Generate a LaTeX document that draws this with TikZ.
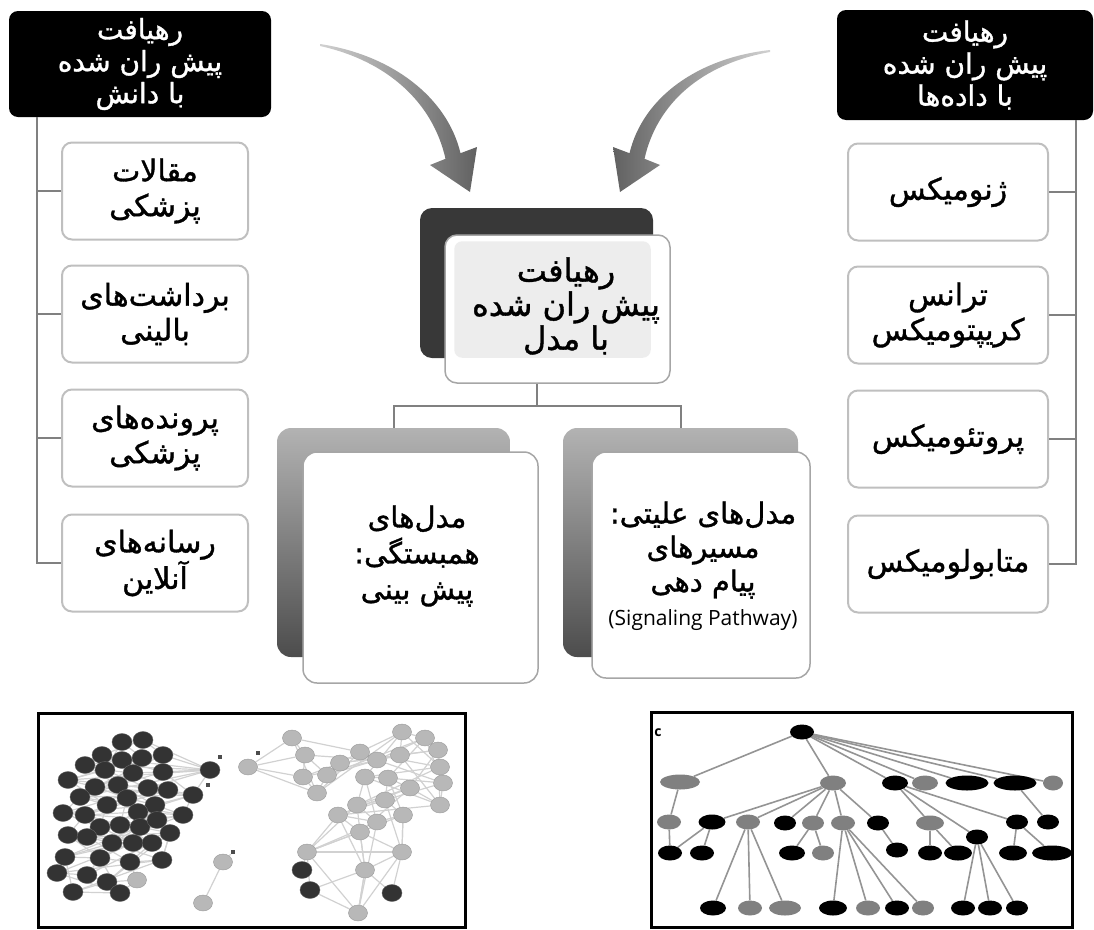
\documentclass[tikz,border=0pt]{standalone}
\usepackage{fontspec}
\setmainfont{DejaVu Sans}
\newfontfamily\persianfont[Script=Arabic,FakeBold=1.2]{DejaVu Sans}
\newfontfamily\latinfont{Open Sans}
\TeXXeTstate=1
\usetikzlibrary{shapes.geometric,calc,backgrounds}
\newcommand\rtlline[1]{\beginR #1\endR}
\tikzset{
  headbox/.style={rounded corners=9pt, fill=black, text=white, minimum width=262pt, minimum height=106pt,
    align=center, inner sep=0pt, font=\persianfont\fontsize{28}{32}\selectfont},
  leafbox/.style={rounded corners=10pt, draw=black!25, line width=2pt, fill=white, minimum width=186pt,
    minimum height=97pt, align=center, inner sep=0pt, font=\persianfont\fontsize{30}{35}\selectfont},
  conn/.style={draw=black!50, line width=2pt},
  frontbox/.style={rounded corners=14pt, fill=white, draw=black!35, line width=1.5pt, inner sep=0pt},
  backbox/.style={rounded corners=14pt, top color=black!30, bottom color=black!70, inner sep=0pt},
  lowtext/.style={align=center, inner sep=0pt, font=\persianfont\fontsize{29}{36}\selectfont},
  dk/.style={ellipse, fill=black!80, draw=black!60, minimum width=20pt, minimum height=17pt, inner sep=0pt},
  lt/.style={ellipse, fill=black!28, draw=black!40, minimum width=19pt, minimum height=16pt, inner sep=0pt},
  dot/.style={rectangle, fill=black!70, minimum size=4pt, inner sep=0pt},
  nedge/.style={draw=black!18, line width=1.2pt},
  tb/.style={ellipse, fill=black, minimum height=15pt, inner sep=0pt},
  tg/.style={ellipse, fill=black!50, minimum height=15pt, inner sep=0pt},
  tedge/.style={draw=black!42, line width=1.6pt},
}
\begin{document}
\begin{tikzpicture}[x=1pt,y=-1pt]
\useasboundingbox (0,0) rectangle (1094,929);

% curved arrows
\shade[left color=black!18, right color=black!62]
  (320,44) .. controls (392,55) and (447,97) .. (460.5,153.2) -- (477,147) -- (470,192)
  -- (430,165) -- (445.5,158.8) .. controls (433,103) and (388,61) .. (320,46) -- cycle;
\shade[left color=black!62, right color=black!18]
  (770,50) .. controls (698,58) and (643,97) .. (629.5,153.2) -- (613,147) -- (620,192)
  -- (660,165) -- (644.5,158.8) .. controls (657,103) and (702,64) .. (770,52) -- cycle;

% heads
\node[headbox] (lh) at (140,64) {\rtlline{رهیافت}\\\rtlline{پیش ران شده}\\\rtlline{با دانش}};
\node[headbox, minimum width=256pt, minimum height=110pt] (rh) at (965,65)
  {\rtlline{رهیافت}\\\rtlline{پیش ران شده}\\\rtlline{با داده‌ها}};

% left leaves
\node[leafbox] (lb1) at (155,191) {\rtlline{مقالات}\\\rtlline{پزشکی}};
\node[leafbox] (lb2) at (155,314) {\rtlline{برداشت‌های}\\\rtlline{بالینی}};
\node[leafbox] (lb3) at (155,438) {\rtlline{پرونده‌های}\\\rtlline{پزشکی}};
\node[leafbox] (lb4) at (155,563) {\rtlline{رسانه‌های}\\\rtlline{آنلاین}};
% right leaves
\node[leafbox, minimum width=200pt] (rb1) at (948,192) {\rtlline{ژنومیکس}};
\node[leafbox, minimum width=200pt] (rb2) at (948,315) {\rtlline{ترانس}\\\rtlline{کریپتومیکس}};
\node[leafbox, minimum width=200pt] (rb3) at (948,439) {\rtlline{پروتئومیکس}};
\node[leafbox, minimum width=200pt] (rb4) at (948,564) {\rtlline{متابولومیکس}};

\coordinate (lv) at (37,0);
\coordinate (rv) at (1076,0);
\draw[conn] (lh.south -| lv) |- (lb4.west);
\foreach \n in {lb1,lb2,lb3} \draw[conn] (\n.west) -- (\n.west -| lv);
\draw[conn] (rh.south -| rv) |- (rb4.east);
\foreach \n in {rb1,rb2,rb3} \draw[conn] (\n.east) -- (\n.east -| rv);

% center
\node[rounded corners=12pt, fill=black!78, minimum width=233pt, minimum height=150pt, inner sep=0pt] (cback) at (536.5,283) {};
\node[frontbox, rounded corners=12pt, minimum width=225pt, minimum height=148pt] (cfront) at (557.5,309) {};
\fill[black!7, rounded corners=8pt] ([shift={(10,7)}]cfront.north west) rectangle ([shift={(-20,-26)}]cfront.south east);
\node[align=center, inner sep=0pt, font=\persianfont\fontsize{32}{34}\selectfont] (ctext) at (566,306)
  {\rtlline{رهیافت}\\\rtlline{پیش ران شده}\\\rtlline{با مدل}};

% lower boxes
\node[backbox, minimum width=233pt, minimum height=229pt] (lback) at (393.5,542.5) {};
\node[frontbox, minimum width=235pt, minimum height=231pt] (lfront) at (420.5,567.5) {};
\node[lowtext] (ltext) at (417,556) {\rtlline{مدل‌های}\\\rtlline{همبستگی:}\\\rtlline{پیش بینی}};
\node[backbox, minimum width=235pt, minimum height=229pt] (rback) at (680.5,542.5) {};
\node[frontbox, minimum width=218pt, minimum height=226pt] (rfront) at (701,565) {};
\node[lowtext, font=\persianfont\fontsize{29}{34}\selectfont] (rtext) at (703,566)
  {\rtlline{مدل‌های علیتی:}\\\rtlline{مسیرهای}\\\rtlline{پیام دهی}\\{\latinfont\fontsize{21}{24}\selectfont (Signaling Pathway)}};

\draw[conn] (cback.south |- cfront.south) -- ++(0,22) coordinate (cj);
\draw[conn] (lback.north) |- (cj) -| (rback.north);

% bottom-left network picture
\draw[line width=3pt] (38,713) rectangle (465,927);
\foreach \i/\px/\py in {1/122/742,2/143/740,3/102/755,4/122/760,5/142/758,6/163/755,7/85/765,8/105/770,
  9/133/773,10/163/772,11/210/770,12/68/780,13/95/787,14/118/785,15/148/788,16/168/790,17/193/795,
  18/80/797,19/107/805,20/127/798,21/155/805,22/63/813,23/85/815,24/138/812,25/183/815,26/100/827,
  27/120/825,28/140/827,29/157/820,30/68/835,31/87/837,32/112/843,33/133/843,34/152/843,35/170/833,
  36/65/857,37/100/858,38/130/862,39/162/860,40/57/873,41/87/875,42/107/882,43/73/892,44/120/893}
  \node[dk] (D\i) at (\px,\py) {};
\foreach \i/\px/\py in {1/137/880,2/248/767,3/223/862,4/203/903}
  \node[lt] (L\i) at (\px,\py) {};
\foreach \i/\px/\py in {1/292/738,2/305/755,3/303/777,4/317/793,5/327/775,6/340/763,7/360/752,8/377/760,
  9/400/755,10/402/732,11/425/738,12/438/750,13/440/767,14/443/783,15/440/805,16/365/777,17/388/778,
  18/410/788,19/357/805,20/385/800,21/338/815,22/377/822,23/403/815,24/360/832,25/307/852,26/402/852,
  27/365/870,28/358/913}
  \node[lt] (R\i) at (\px,\py) {};
\foreach \i/\px/\py in {1/302/870,2/310/890,3/392/893}
  \node[dk] (K\i) at (\px,\py) {};
\foreach \i/\px/\py in {1/220/757,2/258/753,3/208/785,4/233/852}
  \node[dot] (P\i) at (\px,\py) {};
\begin{scope}[on background layer]
  \foreach \i in {1,...,43} {\pgfmathtruncatemacro\j{\i+1}\draw[nedge] (D\i) -- (D\j);}
  \foreach \i in {1,...,40} {\pgfmathtruncatemacro\j{\i+4}\draw[nedge] (D\i) -- (D\j);}
  \foreach \i in {1,...,37} {\pgfmathtruncatemacro\j{\i+7}\draw[nedge] (D\i) -- (D\j);}
  \foreach \i in {1,...,27} {\pgfmathtruncatemacro\j{\i+1}\draw[nedge] (R\i) -- (R\j);}
  \foreach \i in {1,...,25} {\pgfmathtruncatemacro\j{\i+3}\draw[nedge] (R\i) -- (R\j);}
  \foreach \i in {1,...,22} {\pgfmathtruncatemacro\j{\i+6}\draw[nedge] (R\i) -- (R\j);}
  \foreach \a/\b in {D11/D6,D11/D10,D11/D17,D11/D2,D17/D25,D35/D39,L1/D38,L1/D44,L1/D42,
    L2/R1,L2/R2,L2/R3,L2/R4,L3/L4,L3/P4,R25/R24,R25/K1,R25/R21,R24/R27,R27/R28,R28/K2,R26/R24,
    R26/K3,R28/R26,K2/R27,R25/K2,R27/K3,R24/R19,R26/R23}
    \draw[nedge] (\a) -- (\b);
\end{scope}

% bottom-right tree picture
\draw[line width=3pt] (651,712) rectangle (1072,927);
\node[font=\latinfont\bfseries\fontsize{14}{15}\selectfont, inner sep=0pt] (clabel) at (658,733) {c};
\node[tb, minimum width=24pt] (T0) at (802,732) {};
\node[tg, minimum width=40pt] (Ta) at (680,782) {};
\node[tg, minimum width=26pt] (Tb) at (833,783) {};
\node[tb, minimum width=26pt] (Tc) at (895,783) {};
\node[tg, minimum width=26pt] (Td) at (925,783) {};
\node[tb, minimum width=43pt] (Te) at (967,783) {};
\node[tb, minimum width=43pt] (Tf) at (1015,783) {};
\node[tg, minimum width=20pt] (Tg) at (1053,783) {};
\node[tg, minimum width=24pt] (Th) at (669,822) {};
\node[tb, minimum width=27pt] (Ti) at (712,822) {};
\node[tg, minimum width=24pt] (Tj) at (748,822) {};
\node[tb, minimum width=22pt] (Tk) at (785,823) {};
\node[tg, minimum width=22pt] (Tl) at (813,823) {};
\node[tg, minimum width=24pt] (Tm) at (843,823) {};
\node[tb, minimum width=22pt] (Tn) at (878,823) {};
\node[tg, minimum width=28pt] (Tp) at (930,823) {};
\node[tb, minimum width=22pt] (Tq) at (977,837) {};
\node[tb, minimum width=22pt] (Tr) at (1017,822) {};
\node[tb, minimum width=22pt] (Ts) at (1048,822) {};
\node[tb, minimum width=24pt] (Tt) at (670,853) {};
\node[tb, minimum width=24pt] (Tu) at (702,853) {};
\node[tb, minimum width=26pt] (Tv) at (792,853) {};
\node[tg, minimum width=22pt] (Tw) at (823,853) {};
\node[tb, minimum width=22pt] (Tx) at (897,850) {};
\node[tb, minimum width=24pt] (Ty) at (930,853) {};
\node[tb, minimum width=28pt] (Tz) at (958,853) {};
\node[tb, minimum width=28pt] (TA) at (1013,853) {};
\node[tb, minimum width=40pt] (TB) at (1052,853) {};
\node[tb, minimum width=26pt] (TC) at (713,908) {};
\node[tg, minimum width=24pt] (TD) at (750,908) {};
\node[tg, minimum width=32pt] (TE) at (785,908) {};
\node[tb, minimum width=28pt] (TF) at (833,908) {};
\node[tg, minimum width=24pt] (TG) at (868,908) {};
\node[tb, minimum width=24pt] (TH) at (897,908) {};
\node[tg, minimum width=22pt] (TI) at (923,908) {};
\node[tb, minimum width=24pt] (TJ) at (963,908) {};
\node[tb, minimum width=24pt] (TK) at (990,908) {};
\node[tb, minimum width=22pt] (TL) at (1017,908) {};
\begin{scope}[on background layer]
  \foreach \a/\b in {T0/Ta,T0/Tb,T0/Tc,T0/Td,T0/Te,T0/Tf,T0/Tg,Ta/Th,Th/Tt,Ti/Tt,Ti/Tu,
    Tb/Ti,Tb/Tj,Tb/Tk,Tb/Tl,Tb/Tm,Tb/Tn,Tj/TC,Tj/TD,Tj/TE,Tl/Tv,Tl/Tw,Tm/TF,Tm/TG,Tm/TH,Tm/TI,
    Tn/Tx,Tc/Tp,Tc/Tq,Tc/Tr,Tp/Ty,Tp/Tz,Tq/TJ,Tq/TK,Tq/TL,Tr/TA,Tr/TB,Tf/Ts}
    \draw[tedge] (\a) -- (\b);
\end{scope}
\end{tikzpicture}
\end{document}
